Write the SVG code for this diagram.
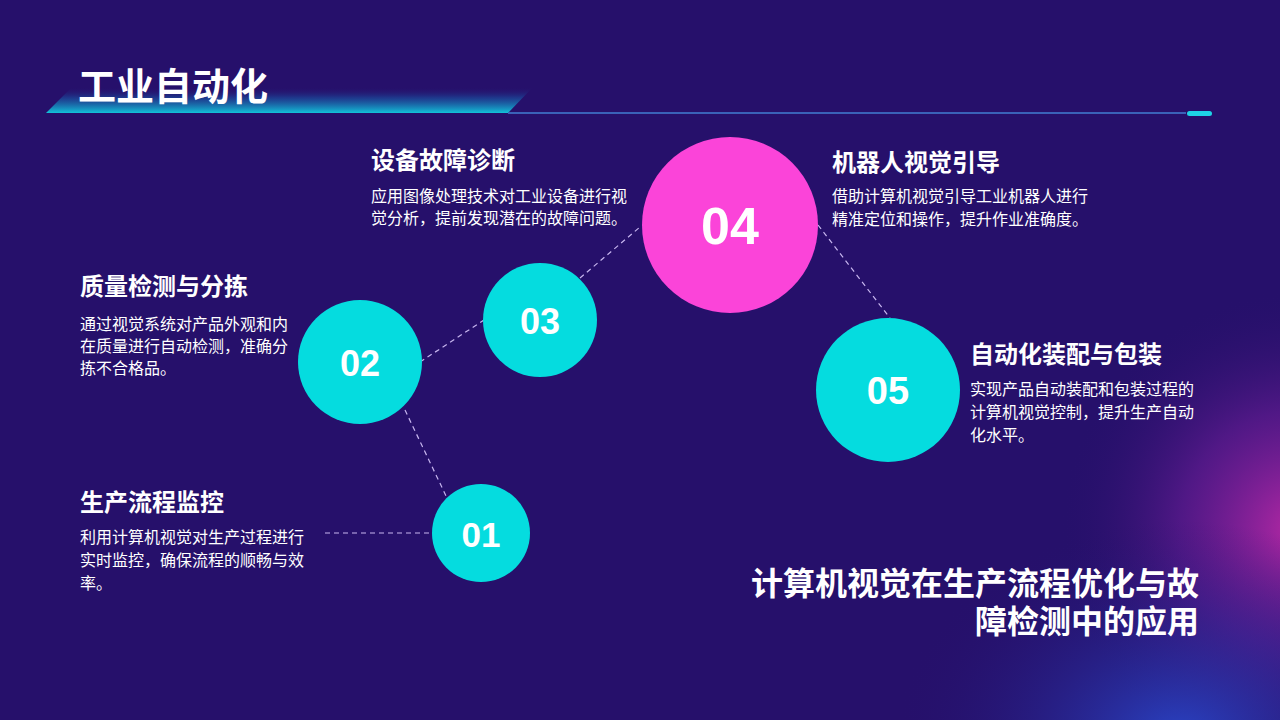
<svg xmlns="http://www.w3.org/2000/svg" width="1280" height="720" viewBox="0 0 1280 720">
<defs>
<linearGradient id="barGrad" x1="0" y1="0" x2="0" y2="1">
<stop offset="0" stop-color="#26106b" stop-opacity="0"/>
<stop offset="0.4" stop-color="#1a4fa0" stop-opacity="0.6"/>
<stop offset="1" stop-color="#12c3da"/>
</linearGradient>
<radialGradient id="glowM" cx="1300" cy="530" r="240" gradientUnits="userSpaceOnUse">
<stop offset="0" stop-color="#c02aa8" stop-opacity="0.95"/>
<stop offset="0.5" stop-color="#7a20a0" stop-opacity="0.5"/>
<stop offset="1" stop-color="#26106b" stop-opacity="0"/>
</radialGradient>
<radialGradient id="glowB" cx="1180" cy="740" r="220" gradientUnits="userSpaceOnUse" gradientTransform="translate(1180 740) scale(1.3 1) translate(-1180 -740)">
<stop offset="0" stop-color="#2a4ad0" stop-opacity="0.9"/>
<stop offset="1" stop-color="#26106b" stop-opacity="0"/>
</radialGradient>
<style>
.head{font-family:"Noto Sans CJK SC","Noto Sans",sans-serif;font-weight:700;font-size:24px;fill:#ffffff;dominant-baseline:central}
.body{font-family:"Noto Sans CJK SC","Noto Sans",sans-serif;font-size:16px;fill:#ffffff;dominant-baseline:central}
.num{font-family:"Liberation Sans",Arial,sans-serif;font-weight:700;fill:#ffffff;text-anchor:middle;dominant-baseline:central}
.cyan{fill:#05dcdf}
.link{stroke:#c7b6ef;stroke-width:1.2;stroke-dasharray:5 4;fill:none}
</style>
</defs>
<rect width="1280" height="720" fill="#26106b"/>
<rect width="1280" height="720" fill="url(#glowM)"/>
<rect width="1280" height="720" fill="url(#glowB)"/>

<g id="title">
<polygon points="46,113 508,113 533,87 72,87" fill="url(#barGrad)"/>
<line x1="508" y1="113" x2="1186" y2="113" stroke="#3a62b8" stroke-width="2"/>
<rect x="1187" y="111" width="25" height="5" rx="2.5" fill="#1ed3e6"/>
<text x="78" y="83" font-family="'Noto Sans CJK SC','Noto Sans',sans-serif" font-weight="700" font-size="38" fill="#ffffff" dominant-baseline="central">工业自动化</text>
</g>

<g id="connectors">
<line class="link" x1="325" y1="533" x2="433" y2="533"/>
<line class="link" x1="405" y1="410" x2="447" y2="498"/>
<line class="link" x1="420" y1="362" x2="484" y2="320"/>
<line class="link" x1="580" y1="278" x2="640" y2="227"/>
<line class="link" x1="818" y1="225" x2="890" y2="318"/>
</g>

<g id="node01">
<circle class="cyan" cx="481" cy="533" r="49"/>
<text class="num" x="481" y="534" font-size="35">01</text>
<text class="head" x="80" y="500">生产流程监控</text>
<text class="body" x="80" y="536">利用计算机视觉对生产过程进行</text>
<text class="body" x="80" y="559">实时监控，确保流程的顺畅与效</text>
<text class="body" x="80" y="582">率。</text>
</g>

<g id="node02">
<circle class="cyan" cx="360" cy="362" r="62"/>
<text class="num" x="360" y="363" font-size="36">02</text>
<text class="head" x="80" y="284">质量检测与分拣</text>
<text class="body" x="80" y="323">通过视觉系统对产品外观和内</text>
<text class="body" x="80" y="345">在质量进行自动检测，准确分</text>
<text class="body" x="80" y="367">拣不合格品。</text>
</g>

<g id="node03">
<circle class="cyan" cx="540" cy="320" r="57"/>
<text class="num" x="540" y="321" font-size="36">03</text>
<text class="head" x="371" y="158">设备故障诊断</text>
<text class="body" x="371" y="195">应用图像处理技术对工业设备进行视</text>
<text class="body" x="371" y="217">觉分析，提前发现潜在的故障问题。</text>
</g>

<g id="node04">
<circle cx="730" cy="225" r="88" fill="#fb44d9"/>
<text class="num" x="730" y="226" font-size="52">04</text>
<text class="head" x="832" y="160">机器人视觉引导</text>
<text class="body" x="832" y="195">借助计算机视觉引导工业机器人进行</text>
<text class="body" x="832" y="218">精准定位和操作，提升作业准确度。</text>
</g>

<g id="node05">
<circle class="cyan" cx="888" cy="390" r="72"/>
<text class="num" x="888" y="391" font-size="38">05</text>
<text class="head" x="970" y="352">自动化装配与包装</text>
<text class="body" x="970" y="388">实现产品自动装配和包装过程的</text>
<text class="body" x="970" y="411">计算机视觉控制，提升生产自动</text>
<text class="body" x="970" y="434">化水平。</text>
</g>

<g id="summary">
<text font-family="'Noto Sans CJK SC','Noto Sans',sans-serif" font-weight="700" font-size="32" fill="#ffffff" text-anchor="end" dominant-baseline="central"><tspan x="1199" y="581">计算机视觉在生产流程优化与故</tspan><tspan x="1199" y="619">障检测中的应用</tspan></text>
</g>
</svg>
